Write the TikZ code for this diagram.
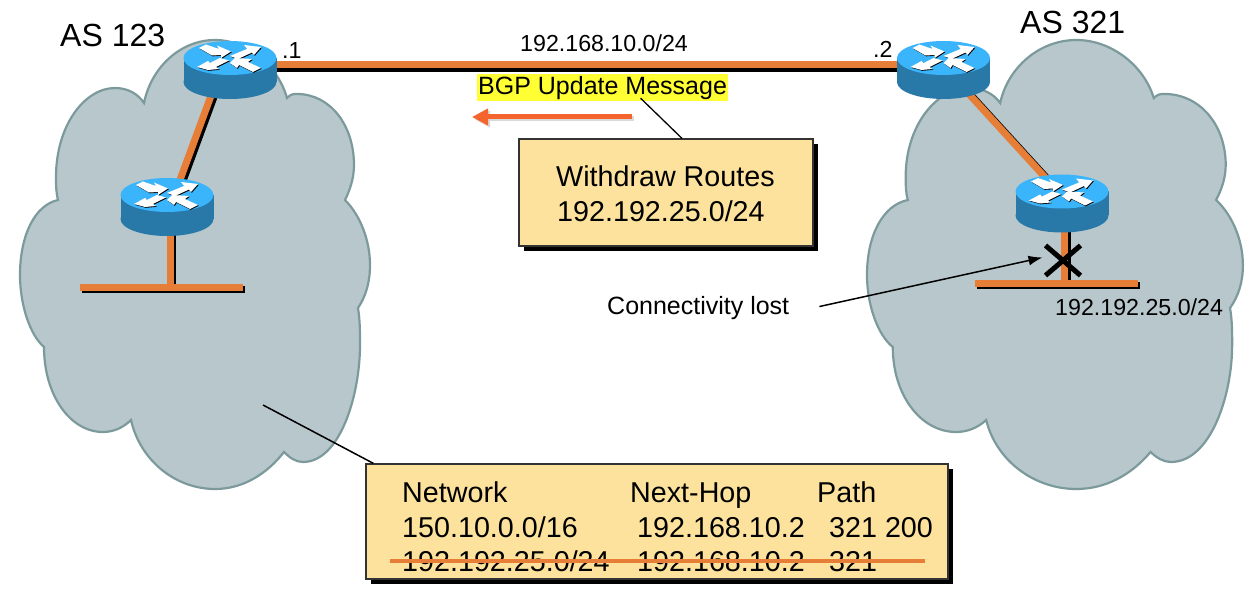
\documentclass[tikz,border=0pt]{standalone}
\usepackage{fontspec}
\setmainfont{Liberation Sans}
\usetikzlibrary{arrows.meta, shapes.misc, shadows}

\definecolor{cloudfill}{HTML}{B7C7CB}
\definecolor{cloudline}{HTML}{7C9A9C}
\definecolor{linkorange}{HTML}{E67E38}
\definecolor{msgorange}{HTML}{F4642C}
\definecolor{boxfill}{HTML}{FCE29C}
\definecolor{routertop}{HTML}{3AB5FB}
\definecolor{routerside}{HTML}{2878A8}
\definecolor{msgyellow}{HTML}{FFFF33}

\begin{document}
\begin{tikzpicture}[
    x=1pt, y=-1pt,
    >=Latex,
    router/.style={
      rectangle,
      minimum width=93pt,
      minimum height=58pt,
      inner sep=0pt
    },
    link/.style={line width=7pt, draw=linkorange},
    linkshadow/.style 2 args={line width=7pt, draw=black, transform canvas={xshift=#1pt, yshift=-#2pt}},
    tipbox/.style={
      rectangle,
      draw=black!80,
      line width=1.2pt,
      fill=boxfill,
      inner sep=0pt,
      drop shadow={shadow xshift=5pt, shadow yshift=-5pt, fill=black, opacity=1}
    },
    txtsmall/.style={anchor=base west, inner sep=0pt, font=\fontsize{23.2}{27}\selectfont},
    txtmid/.style={anchor=base west, inner sep=0pt, font=\fontsize{25}{30}\selectfont},
    txtbig/.style={anchor=base west, inner sep=0pt, font=\fontsize{32}{38}\selectfont},
    cell/.style={anchor=base west, inner sep=0pt, font=\fontsize{28.7}{34}\selectfont},
    cloud/.pic={
      \draw[fill=cloudfill, draw=cloudline, line width=2.2pt]
        (124,103) .. controls (131,68) and (160,40) .. (195,40)
        .. controls (228,40) and (258,66) .. (267,98)
        .. controls (271,94) and (273,94) .. (277,94)
        .. controls (310,94) and (334,125) .. (334,165)
        .. controls (334,178) and (330,190) .. (325,200)
        .. controls (340,215) and (350,240) .. (350,265)
        .. controls (350,282) and (346,296) .. (338,308)
        .. controls (340,320) and (340,332) .. (340,345)
        .. controls (340,395) and (320,462) .. (283,462)
        .. controls (276,462) and (270,458) .. (264,452)
        .. controls (246,475) and (222,489) .. (195,489)
        .. controls (155,489) and (120,460) .. (111,420)
        .. controls (103,428) and (93,432) .. (83,432)
        .. controls (50,432) and (24,395) .. (24,347)
        .. controls (10,335) and (0,305) .. (0,275)
        .. controls (0,235) and (15,205) .. (38,200)
        .. controls (36,192) and (36,185) .. (36,177)
        .. controls (36,125) and (65,88) .. (95,88)
        .. controls (108,88) and (118,94) .. (124,103) -- cycle;
    },
    routericon/.pic={
      \fill[routerside] (0,12) ellipse [x radius=46.5, y radius=17];
      \fill[routerside] (-46.5,-12) rectangle (46.5,12);
      \fill[routertop] (0,-12) ellipse [x radius=46.5, y radius=17];
      \foreach \ax/\ay in {0.8/0.8, 0/0} {
        \ifdim\ax pt>0pt \def\arrowcol{black}\else \def\arrowcol{white}\fi
        \begin{scope}[shift={(\ax,\ay)}]
          \fill[\arrowcol] (-31,-22) -- (-24,-25.5) -- (-11,-21) -- (-13,-24.5) -- (1,-18.5)
            -- (-9,-12) -- (-9,-15) -- (-18,-14.5) -- cycle;
          \fill[\arrowcol] (31,-23) -- (14,-25) -- (17,-21) -- (0,-14) -- (8,-11)
            -- (22,-17.5) -- (24,-15) -- cycle;
          \fill[\arrowcol] (-33,-3) -- (-22,-9) -- (-20,-7) -- (-10,-12) -- (-1,-9.5)
            -- (-14,-3) -- (-11,-1) -- (-22,0) -- cycle;
          \fill[\arrowcol] (0,-7) -- (5,-12) -- (22,-11) -- (18,-8) -- (31,-2) -- (23,2)
            -- (9,-5) -- (7,-2) -- cycle;
        \end{scope}
      }
    }
  ]
    \useasboundingbox (0,0) rectangle (1259,596);
    \pic at (20,0) {cloud};
    \pic[xscale=1.074] at (867,0) {cloud};

    \node[router] (r1) at (230,70) {};
    \node[router] (r2) at (943.5,70) {};
    \node[router] (r3) at (167,207) {};
    \node[router] (r4) at (1062,203.5) {};
    \coordinate (lan1w) at (80,287.5);
    \coordinate (lan1e) at (243,287.5);
    \coordinate (lan2w) at (975,284);
    \coordinate (lan2e) at (1138,284);

    % black offset under each orange link
    \draw[linkshadow={3}{4}] ([yshift=5pt]r1.center) -- ([yshift=5pt]r2.center);
    \draw[linkshadow={2.5}{2.5}] ([xshift=-9.5pt]r1.center) -- ([xshift=3pt]r3.center);
    \draw[linkshadow={1.2}{0.2}] ([xshift=3.5pt]r2.center) -- ([xshift=7pt]r4.center);
    \draw[linkshadow={2}{2}] ([xshift=3pt]r3.center) -- ([xshift=3pt]r3.center |- lan1w);
    \draw[linkshadow={2.5}{2}] ([xshift=2.5pt]r4.center) -- ([xshift=2.5pt]r4.center |- lan2w);
    \draw[linkshadow={2}{2}] (lan1w) -- (lan1e);
    \draw[linkshadow={2}{2}] (lan2w) -- (lan2e);

    \draw[link] ([yshift=5pt]r1.center) -- ([yshift=5pt]r2.center);
    \draw[link] ([xshift=-9.5pt]r1.center) -- ([xshift=3pt]r3.center);
    \draw[link] ([xshift=3.5pt]r2.center) -- ([xshift=7pt]r4.center);
    \draw[link] ([xshift=3pt]r3.center) -- ([xshift=3pt]r3.center |- lan1w);
    \draw[link] ([xshift=2.5pt]r4.center) -- ([xshift=2.5pt]r4.center |- lan2w);
    \draw[link] (lan1w) -- (lan1e);
    \draw[link] (lan2w) -- (lan2e);

    \pic at (r1) {routericon};
    \pic at (r2) {routericon};
    \pic at (r3) {routericon};
    \pic at (r4) {routericon};

    \node[txtbig] (as1) at (60,47) {AS 123};
    \node[txtbig] (as2) at (1020,34) {AS 321};
    \node[txtsmall] (dot1) at (282,59) {.1};
    \node[txtsmall] (dot2) at (873,58) {.2};
    \node[txtsmall] (linknet) at (520,52) {192.168.10.0/24};
    \node[txtsmall] (lostnet) at (1055,316) {192.192.25.0/24};

    \node[txtmid, fill=msgyellow, inner xsep=1pt, inner ysep=1pt, text height=20pt, text depth=5pt] (bgp) at (477,95) {BGP Update Message};
    \coordinate (msgtail) at (632,117);
    \coordinate (msghead) at (472,117);
    \draw[draw=black!15, line width=5pt, -{Triangle[length=16pt, width=16pt]}, transform canvas={xshift=2pt, yshift=-2pt}] (msgtail) -- (msghead);
    \draw[draw=msgorange, line width=5pt, -{Triangle[length=16pt, width=16pt]}] (msgtail) -- (msghead);

    \node[tipbox, minimum width=294pt, minimum height=107pt] (withdraw) at (666,192.5) {};
    \node[cell] (w1) at (556,187) {Withdraw Routes};
    \node[cell] (w2) at (557,222) {192.192.25.0/24};
    \draw[line width=1.3pt] ([xshift=38pt, yshift=3pt]bgp.south) -- ([xshift=16pt]withdraw.north);

    \node[txtmid] (conn) at (607,315) {Connectivity lost};
    \node[cross out, draw=black, line width=5pt, minimum width=30pt, minimum height=25pt, inner sep=0pt] (lost) at (1063,260.5) {};
    \draw[line width=1.5pt, -{Latex[length=14pt, width=10pt]}] ([xshift=30pt, yshift=2pt]conn.east) -- ([xshift=-3pt, yshift=3pt]lost.west);

    \coordinate (ribpoint) at (263,405);
    \node[tipbox, minimum width=582pt, minimum height=115pt] (rib) at (657,521.5) {};
    \draw[line width=1.5pt] (ribpoint) -- ([xshift=8pt]rib.north west);

    \node[cell] (h1) at (402,502) {Network};
    \node[cell] (h2) at (630,502) {Next-Hop};
    \node[cell] (h3) at (817,502) {Path};
    \node[cell] (a1) at (402,537) {150.10.0.0/16};
    \node[cell] (a2) at (637,537) {192.168.10.2};
    \node[cell] (a3) at (829,537) {321 200};
    \node[cell] (b1) at (402,571) {192.192.25.0/24};
    \node[cell] (b2) at (637,571) {192.168.10.2};
    \node[cell] (b3) at (829,571) {321};
    \coordinate (strikew) at (390,561);
    \coordinate (strikee) at (925,561);
    \draw[draw=linkorange, line width=3.5pt] (strikew) -- (strikee);
\end{tikzpicture}
\end{document}
